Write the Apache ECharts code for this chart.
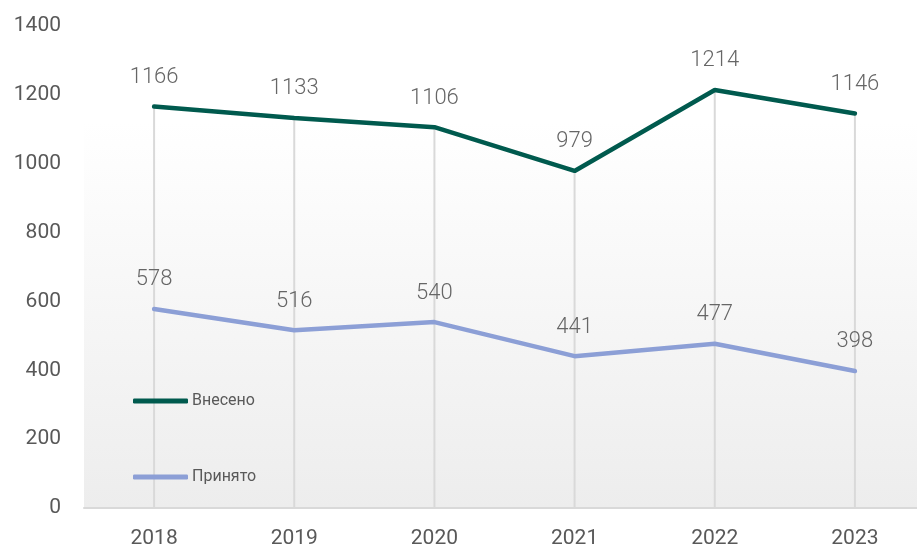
<!DOCTYPE html>
<html>
<head>
<meta charset="utf-8">
<script src="https://cdn.jsdelivr.net/npm/echarts@6/dist/echarts.min.js"></script>
<style>
  html, body { margin: 0; padding: 0; background: #fff; }
  #chart { width: 917px; height: 551px; }
</style>
</head>
<body>
<div id="chart"></div>
<script>
const years = ['2018', '2019', '2020', '2021', '2022', '2023']
const vneseno = [1166, 1133, 1106, 979, 1214, 1146]
const prinyato = [578, 516, 540, 441, 477, 398]
const yTicks = [0, 200, 400, 600, 800, 1000, 1200, 1400]

const chart = echarts.init(document.getElementById('chart'))

const labelStyle = {
  show: true,
  position: 'top',
  distance: 18,
  color: '#666666',
  fontFamily: 'Roboto',
  fontWeight: 300,
  fontSize: 22
}

const option = {
  animation: false,
  grid: {
    left: 84,
    width: 841,
    top: 26,
    bottom: 43,
    outerBoundsMode: 'none',
    containLabel: false,
    show: true,
    borderWidth: 0,
    backgroundColor: {
      type: 'linear',
      x: 0, y: 0, x2: 0, y2: 1,
      colorStops: [
        { offset: 0, color: '#ffffff' },
        { offset: 0.2, color: '#ffffff' },
        { offset: 1, color: '#ededed' }
      ]
    }
  },
  legend: {
    orient: 'vertical',
    left: 128,
    top: 388,
    itemGap: 60,
    itemWidth: 55,
    itemHeight: 5,
    icon: 'roundRect',
    data: ['Внесено', 'Принято'],
    textStyle: {
      fontFamily: 'Roboto',
      fontSize: 16,
      color: '#595959',
      padding: [0, 0, 0, -1]
    }
  },
  xAxis: {
    type: 'category',
    data: years,
    boundaryGap: true,
    axisLine: { lineStyle: { color: '#d9d9d9', width: 2 } },
    axisTick: { show: false },
    axisLabel: {
      margin: 20,
      color: '#595959',
      fontFamily: 'Roboto',
      fontSize: 21
    },
    splitLine: { show: false }
  },
  yAxis: {
    type: 'value',
    min: yTicks[0],
    max: yTicks[yTicks.length - 1],
    interval: 200,
    axisLine: { show: false },
    axisTick: { show: false },
    splitLine: { show: false },
    axisLabel: {
      margin: 23,
      color: '#595959',
      fontFamily: 'Roboto',
      fontSize: 21,
      formatter: v => String(v)
    }
  },
  series: [
    {
      name: 'drop',
      type: 'bar',
      data: vneseno,
      barWidth: 2,
      silent: true,
      itemStyle: { color: '#d9d9d9' },
      z: 1
    },
    {
      name: 'Внесено',
      type: 'line',
      data: vneseno,
      symbol: 'circle',
      symbolSize: 0.1,
      color: '#005a4e',
      lineStyle: { width: 4.5, color: '#005a4e', cap: 'round' },
      label: labelStyle,
      z: 3
    },
    {
      name: 'Принято',
      type: 'line',
      data: prinyato,
      symbol: 'circle',
      symbolSize: 0.1,
      color: '#8c9fd6',
      lineStyle: { width: 4.5, color: '#8c9fd6', cap: 'round' },
      label: labelStyle,
      z: 3
    }
  ]
}

chart.setOption(option)
</script>
</body>
</html>
